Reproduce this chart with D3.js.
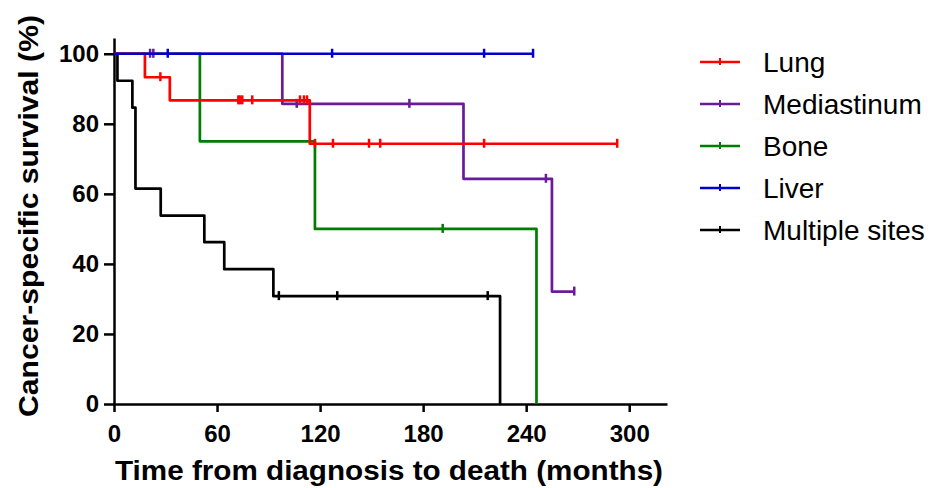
<!DOCTYPE html>
<html>
<head>
<meta charset="utf-8">
<script src="https://cdn.jsdelivr.net/npm/d3@7"></script>
<style>
  body { margin: 0; background: #fff; }
  svg text { font-family: "Liberation Sans", Arial, sans-serif; }
</style>
</head>
<body>
<div id="chart"></div>
<script>
// ============ DATA ============
// each series: step times (months), survival (%) after each step, censor marks
const seriesNames = ["Lung", "Mediastinum", "Bone", "Liver", "Multiple sites"];
const seriesColors = ["#ff0000", "#6a1b9a", "#007d00", "#0000cc", "#000000"];

const lungTimes = [0, 18, 32.5, 114, 293];
const lungSurv = [100, 93.3, 86.7, 74.3, 74.3];
const lungCensor = [27, 72.4, 73.4, 74.7, 80.5, 108.3, 110.6, 112.4, 117, 127.5, 148.5, 155, 215.5, 293];

const mediaTimes = [0, 98, 203.5, 255, 268];
const mediaSurv = [100, 85.7, 64.3, 32.1, 32.1];
const mediaCensor = [21, 22.9, 106.4, 172, 251.5, 268];

const boneTimes = [0, 50, 117, 246];
const boneSurv = [100, 75, 50, 0];
const boneCensor = [191.4];

const liverTimes = [0, 244];
const liverSurv = [100, 100];
const liverCensor = [31.3, 127, 215.5, 244];

const multiTimes = [0, 2, 10.7, 12.5, 27.2, 52.6, 64.2, 92.8, 224.8];
const multiSurv = [100, 92.3, 84.6, 61.5, 53.8, 46.2, 38.5, 30.8, 0];
const multiCensor = [96, 130, 217.6];

const xTicks = [0, 60, 120, 180, 240, 300];
const yTicks = [0, 20, 40, 60, 80, 100];

// ============ SETUP ============
const W = 936, H = 488;
const svg = d3.select("#chart")
    .append("svg")
    .attr("width", W)
    .attr("height", H);

// scales
const x = d3.scaleLinear()
    .domain([0, 322])
    .range([114, 667]);

const y = d3.scaleLinear()
    .domain([0, 104.5])
    .range([404, 38]);

// axes
const xAxis = svg.append("g")
    .attr("transform", `translate(0,${y(0)})`)
    .call(d3.axisBottom(x).tickValues(xTicks).tickSize(8).tickSizeOuter(0).tickPadding(13));

const yAxis = svg.append("g")
    .attr("transform", `translate(${x(0)},0)`)
    .call(d3.axisLeft(y).tickValues(yTicks).tickSize(10).tickSizeOuter(0).tickPadding(5));

[xAxis, yAxis].forEach(g => {
    g.select(".domain").attr("stroke", "#000").attr("stroke-width", 2.5);
    g.selectAll(".tick line").attr("stroke", "#000").attr("stroke-width", 2.5);
    g.selectAll(".tick text")
        .attr("fill", "#000")
        .style("font-size", "24px")
        .style("font-weight", "bold");
});

// axis titles
svg.append("text")
    .attr("x", 389)
    .attr("y", 480)
    .attr("text-anchor", "middle")
    .attr("textLength", 548)
    .attr("lengthAdjust", "spacingAndGlyphs")
    .style("font-size", "28px")
    .style("font-weight", "bold")
    .text("Time from diagnosis to death (months)");

svg.append("text")
    .attr("transform", "rotate(-90)")
    .attr("x", -216)
    .attr("y", 38)
    .attr("text-anchor", "middle")
    .attr("textLength", 402)
    .attr("lengthAdjust", "spacingAndGlyphs")
    .style("font-size", "28px")
    .style("font-weight", "bold")
    .text("Cancer-specific survival (%)");

// ============ CURVES ============
const allSeries = [
    {times: lungTimes, surv: lungSurv, censor: lungCensor},
    {times: mediaTimes, surv: mediaSurv, censor: mediaCensor},
    {times: boneTimes, surv: boneSurv, censor: boneCensor},
    {times: liverTimes, surv: liverSurv, censor: liverCensor},
    {times: multiTimes, surv: multiSurv, censor: multiCensor}
].map((s, i) => ({...s, name: seriesNames[i], color: seriesColors[i]}));

const line = d3.line()
    .x(d => x(d[0]))
    .y(d => y(d[1]))
    .curve(d3.curveStepAfter);

// survival value at time t (step function)
function survAt(s, t) {
    let v = s.surv[0];
    s.times.forEach((tt, i) => { if (tt <= t) v = s.surv[i]; });
    return v;
}

// draw back to front: multiple sites, bone, mediastinum, lung, liver
const drawOrder = [4, 2, 1, 0, 3];
drawOrder.forEach(i => {
    const s = allSeries[i];
    const pts = s.times.map((t, j) => [t, s.surv[j]]);

    svg.append("path")
        .datum(pts)
        .attr("fill", "none")
        .attr("stroke", s.color)
        .attr("stroke-width", 2.7)
        .attr("stroke-linejoin", "round")
        .attr("d", line);

    // censor ticks
    svg.selectAll(null)
        .data(s.censor)
        .enter()
        .append("line")
        .attr("x1", d => x(d))
        .attr("x2", d => x(d))
        .attr("y1", d => y(survAt(s, d)) - 5)
        .attr("y2", d => y(survAt(s, d)) + 4)
        .attr("stroke", s.color)
        .attr("stroke-width", 2.5);
});

// ============ LEGEND ============
const legend = svg.append("g")
    .attr("transform", "translate(700, 62)");

allSeries.forEach((s, i) => {
    const ly = i * 42;
    legend.append("line")
        .attr("x1", 0).attr("x2", 40)
        .attr("y1", ly).attr("y2", ly)
        .attr("stroke", s.color)
        .attr("stroke-width", 2.7);
    legend.append("line")
        .attr("x1", 20).attr("x2", 20)
        .attr("y1", ly - 4).attr("y2", ly + 3)
        .attr("stroke", s.color)
        .attr("stroke-width", 2);
    legend.append("text")
        .attr("x", 63)
        .attr("y", ly)
        .attr("dy", "0.36em")
        .style("font-size", "28px")
        .attr("fill", "#000")
        .text(s.name);
});
</script>
</body>
</html>
